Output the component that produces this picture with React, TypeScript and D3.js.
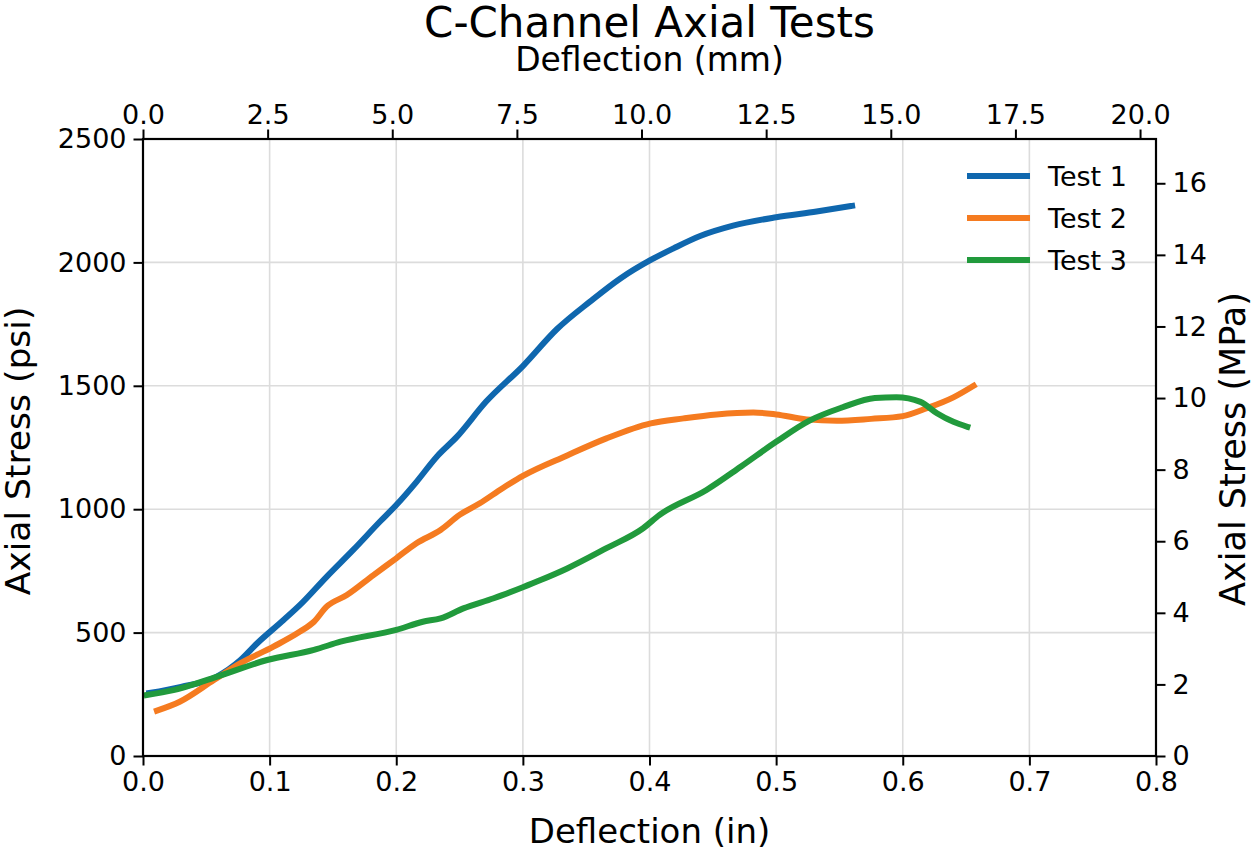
import * as d3 from 'd3';
import React, { useEffect, useRef } from 'react';

// deflection (in) and axial stress (psi)
const test1X = [0.005, 0.03, 0.058, 0.077, 0.09, 0.111, 0.124, 0.145, 0.166, 0.187, 0.2, 0.216, 0.232, 0.248, 0.271, 0.3, 0.327, 0.353, 0.377, 0.401, 0.419, 0.44, 0.466, 0.5, 0.532, 0.56];
const test1Y = [255, 280, 321, 389, 456, 551, 612, 726, 835, 949, 1017, 1111, 1213, 1294, 1436, 1580, 1730, 1841, 1935, 2010, 2057, 2107, 2149, 2183, 2206, 2229];

const test2X = [0.011, 0.029, 0.056, 0.077, 0.103, 0.124, 0.135, 0.145, 0.161, 0.182, 0.2, 0.216, 0.235, 0.25, 0.266, 0.284, 0.3, 0.335, 0.366, 0.401, 0.427, 0.453, 0.482, 0.5, 0.524, 0.548, 0.575, 0.6, 0.619, 0.64, 0.656];
const test2Y = [184, 220, 308, 376, 443, 504, 544, 605, 652, 733, 801, 862, 916, 977, 1024, 1085, 1135, 1218, 1287, 1348, 1368, 1384, 1392, 1384, 1364, 1358, 1366, 1377, 1409, 1453, 1500];

const test3X = [0.003, 0.024, 0.058, 0.098, 0.135, 0.156, 0.2, 0.221, 0.235, 0.253, 0.277, 0.3, 0.314, 0.335, 0.366, 0.395, 0.408, 0.445, 0.472, 0.5, 0.526, 0.552, 0.578, 0.595, 0.614, 0.627, 0.64, 0.651];
const test3Y = [247, 267, 321, 389, 430, 463, 511, 544, 558, 598, 639, 684, 713, 760, 842, 923, 977, 1078, 1172, 1273, 1358, 1412, 1451, 1454, 1435, 1389, 1354, 1334];

const seriesNames = ['Test 1', 'Test 2', 'Test 3'];
const colors = ['#0f67ae', '#f57b20', '#219a3c'];

const inTicks = [0, 0.1, 0.2, 0.3, 0.4, 0.5, 0.6, 0.7, 0.8];
const mmTicks = [0, 2.5, 5, 7.5, 10, 12.5, 15, 17.5, 20];
const psiTicks = [0, 500, 1000, 1500, 2000, 2500];
const mpaTicks = [0, 2, 4, 6, 8, 10, 12, 14, 16];

const IN_TO_MM = 25.4;
const PSI_TO_MPA = 0.00689476;

function App() {
    const ref = useRef<SVGSVGElement>(null);

    useEffect(() => {
        const width = 1255;
        const height = 851;
        const left = 143, right = 1156, top = 139, bottom = 756;
        const font = 'DejaVu Sans, sans-serif';

        const x = d3.scaleLinear().domain([0, 0.8]).range([left, right]);
        const xTop = d3.scaleLinear().domain([0, 0.8 * IN_TO_MM]).range([left, right]);
        const y = d3.scaleLinear().domain([0, 2500]).range([bottom, top]);
        const yRight = d3.scaleLinear().domain([0, 2500 * PSI_TO_MPA]).range([bottom, top]);

        const svg = d3.select(ref.current);
        svg.selectAll('*').remove();
        svg.attr('width', width).attr('height', height)
            .style('font-family', font);

        svg.append('rect').attr('width', width).attr('height', height).attr('fill', '#fff');

        // grid
        const grid = svg.append('g').attr('stroke', '#dcdcdc').attr('stroke-width', 1.6);
        grid.selectAll('line.v').data(inTicks.slice(1, -1)).enter().append('line')
            .attr('x1', d => x(d)).attr('x2', d => x(d))
            .attr('y1', top).attr('y2', bottom);
        grid.selectAll('line.h').data(psiTicks.slice(1, -1)).enter().append('line')
            .attr('y1', d => y(d)).attr('y2', d => y(d))
            .attr('x1', left).attr('x2', right);

        // curves
        const line = d3.line<[number, number]>()
            .x(d => x(d[0]))
            .y(d => y(d[1]))
            .curve(d3.curveMonotoneX);
        const series = [
            d3.zip(test1X, test1Y) as [number, number][],
            d3.zip(test2X, test2Y) as [number, number][],
            d3.zip(test3X, test3Y) as [number, number][],
        ];
        svg.append('g').selectAll('path').data(series).enter().append('path')
            .attr('d', d => line(d))
            .attr('fill', 'none')
            .attr('stroke', (d, i) => colors[i])
            .attr('stroke-width', 6)
            .attr('stroke-linejoin', 'round')
            .attr('stroke-linecap', 'square');

        // axes
        const styleAxis = (g: any) => {
            g.select('.domain').remove();
            g.selectAll('.tick line').attr('stroke', '#000').attr('stroke-width', 2);
            g.selectAll('.tick text').attr('font-size', 27).attr('font-family', font).attr('fill', '#000');
        };
        svg.append('g').attr('transform', `translate(0,${bottom})`)
            .call(d3.axisBottom(x).tickValues(inTicks).tickFormat(d3.format('.1f')).tickSize(9.5).tickPadding(6))
            .call(styleAxis);
        svg.append('g').attr('transform', `translate(0,${top})`)
            .call(d3.axisTop(xTop).tickValues(mmTicks).tickFormat(d3.format('.1f')).tickSize(9.5).tickPadding(6))
            .call(styleAxis);
        svg.append('g').attr('transform', `translate(${left},0)`)
            .call(d3.axisLeft(y).tickValues(psiTicks).tickFormat(d3.format('d')).tickSize(9.5).tickPadding(7))
            .call(styleAxis);
        svg.append('g').attr('transform', `translate(${right},0)`)
            .call(d3.axisRight(yRight).tickValues(mpaTicks).tickFormat(d3.format('d')).tickSize(9.5).tickPadding(7))
            .call(styleAxis);

        svg.append('rect')
            .attr('x', left).attr('y', top)
            .attr('width', right - left).attr('height', bottom - top)
            .attr('fill', 'none').attr('stroke', '#000').attr('stroke-width', 2.2);

        // labels
        svg.append('text').attr('x', (left + right) / 2).attr('y', 37)
            .attr('text-anchor', 'middle').attr('font-size', 42).text('C-Channel Axial Tests');
        svg.append('text').attr('x', (left + right) / 2).attr('y', 71)
            .attr('text-anchor', 'middle').attr('font-size', 33).text('Deflection (mm)');
        svg.append('text').attr('x', (left + right) / 2).attr('y', 843)
            .attr('text-anchor', 'middle').attr('font-size', 34).text('Deflection (in)');
        svg.append('text').attr('transform', `translate(30,451) rotate(-90)`)
            .attr('text-anchor', 'middle').attr('font-size', 34.5).text('Axial Stress (psi)');
        svg.append('text').attr('transform', `translate(1245,449) rotate(-90)`)
            .attr('text-anchor', 'middle').attr('font-size', 35).text('Axial Stress (MPa)');

        // legend
        const legend = svg.append('g').selectAll('g').data(seriesNames).enter().append('g')
            .attr('transform', (d, i) => `translate(967,${176 + i * 42})`);
        legend.append('line').attr('x1', 0).attr('x2', 63)
            .attr('stroke', (d, i) => colors[i]).attr('stroke-width', 6);
        legend.append('text').attr('x', 81).attr('dy', '0.36em')
            .attr('font-size', 27).text(d => d);
    });

    return (
        <svg ref={ref} style={{ position: 'absolute', left: 0, top: 0 }}></svg>
    );
}

export default App;
